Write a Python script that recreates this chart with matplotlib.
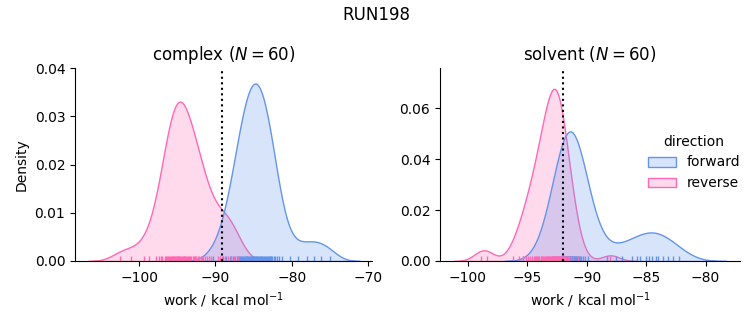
import matplotlib
matplotlib.use("Agg")

import pandas as pd
import matplotlib.pyplot as plt
import seaborn as sns

complex_forward = [
    -90.27, -89.01, -88.56, -88.16, -87.93, -87.68, -87.44, -87.24, -87.08, -86.94,
    -86.79, -86.63, -86.49, -86.36, -86.25, -86.14, -86.03, -85.92, -85.82, -85.71,
    -85.6, -85.49, -85.39, -85.29, -85.19, -85.1, -85.0, -84.9, -84.8, -84.7,
    -84.6, -84.5, -84.39, -84.29, -84.19, -84.09, -83.99, -83.88, -83.78, -83.67,
    -83.55, -83.42, -83.3, -83.17, -83.04, -82.92, -82.78, -82.58, -82.39, -82.19,
    -82.8, -81.99, -81.72, -81.3, -80.3, -79.2, -78.0, -77.1, -76.2, -75.0,
]
complex_reverse = [
    -102.5, -101.0, -99.4, -98.7, -97.82, -97.46, -97.2, -96.94, -96.67, -96.5,
    -96.36, -96.23, -96.1, -95.97, -95.84, -95.75, -95.62, -95.53, -95.4, -95.31,
    -95.18, -95.09, -95.0, -94.91, -94.82, -94.74, -94.6, -94.52, -94.38, -94.3,
    -94.16, -94.08, -93.94, -93.81, -93.68, -93.55, -93.42, -93.28, -93.15, -92.98,
    -92.8, -92.67, -92.49, -92.32, -92.14, -91.96, -91.74, -91.57, -91.35, -91.13,
    -90.86, -90.6, -89.7, -89.4, -89.1, -88.8, -88.4, -88.0, -87.6, -87.1,
]
solvent_forward = [
    -92.94, -92.63, -92.47, -92.35, -92.25, -92.17, -92.10, -92.04, -91.98, -91.92,
    -91.87, -91.82, -91.77, -91.73, -91.69, -91.64, -91.60, -91.56, -91.52, -91.48,
    -91.44, -91.42, -91.40, -91.38, -91.36, -91.32, -91.28, -91.24, -91.20, -91.16,
    -91.11, -91.07, -91.03, -90.98, -90.93, -90.88, -90.82, -90.76, -90.70, -90.63,
    -90.55, -90.45, -90.33, -90.17, -89.86,
    -88.3, -87.5, -87.0, -86.2, -85.8, -85.5, -85.0, -84.8,
    -84.5, -84.2, -84.0, -83.6, -83.2, -82.7, -82.2,
]
solvent_reverse = [
    -98.9, -98.4,
    -96.23, -95.66, -95.4, -95.34, -95.1, -94.92, -94.75, -94.61, -94.48, -94.37,
    -94.26, -94.16, -94.06, -93.98, -93.89, -93.81, -93.73, -93.66, -93.57, -93.5,
    -93.43, -93.36, -93.29, -93.22, -93.15, -93.08, -93.03, -92.96, -92.9,
    -92.86, -92.82, -92.78, -92.74, -92.69, -92.65, -92.6, -92.56, -92.51, -92.47,
    -92.41, -92.37, -92.32, -92.26, -92.21, -92.15, -92.09, -92.03, -91.96, -91.88,
    -91.8, -91.71, -91.6, -91.5, -91.49, -91.33, -91.13, -90.76,
    -88.0,
]

phases = ["complex", "solvent"]
directions = ["forward", "reverse"]
free_energy = {"complex": -89.1, "solvent": -92.0}
xlims = {"complex": (-108.4, -69.5), "solvent": (-102.35, -77.1)}
ylims = {"complex": (0, 0.04), "solvent": (0, 0.0757)}

series = {
    ("complex", "forward"): complex_forward,
    ("complex", "reverse"): complex_reverse,
    ("solvent", "forward"): solvent_forward,
    ("solvent", "reverse"): solvent_reverse,
}
rows = []
for (phase, direction), values in series.items():
    for v in values:
        rows.append({"phase": phase, "direction": direction, "work": v})
df = pd.DataFrame(rows)

palette = {"forward": "cornflowerblue", "reverse": "hotpink"}

g = sns.displot(
    data=df, x="work", hue="direction", col="phase",
    kind="kde", fill=True, rug=True,
    col_order=phases, hue_order=directions, palette=palette,
    facet_kws=dict(sharex=False, sharey=False),
)

fig = g.figure
fig.set_size_inches(7.53, 3.25)
fig.set_dpi(100)

positions = {
    "complex": [75 / 753, 64 / 325, 297 / 753, 193 / 325],
    "solvent": [440 / 753, 64 / 325, 300 / 753, 193 / 325],
}

for ax, phase in zip(g.axes.flat, phases):
    n = len(df[(df.phase == phase) & (df.direction == "forward")])
    ax.set_title(f"{phase} ($N={n}$)", fontsize=12)
    ax.axvline(free_energy[phase], color="black", linestyle=":", linewidth=1.5)
    ax.set_xlim(*xlims[phase])
    ax.set_ylim(*ylims[phase])
    ax.set_xlabel("work / kcal mol$^{-1}$")
    ax.set_position(positions[phase])

g.axes.flat[0].set_ylabel("Density")
g.axes.flat[1].set_ylabel("")
g.axes.flat[1].tick_params(labelleft=True)

sns.move_legend(g, "center right", bbox_to_anchor=(1.0, 0.5), frameon=False)
fig.suptitle("RUN198", fontsize=12, y=0.98)

fig.savefig("out.png", dpi=100)
